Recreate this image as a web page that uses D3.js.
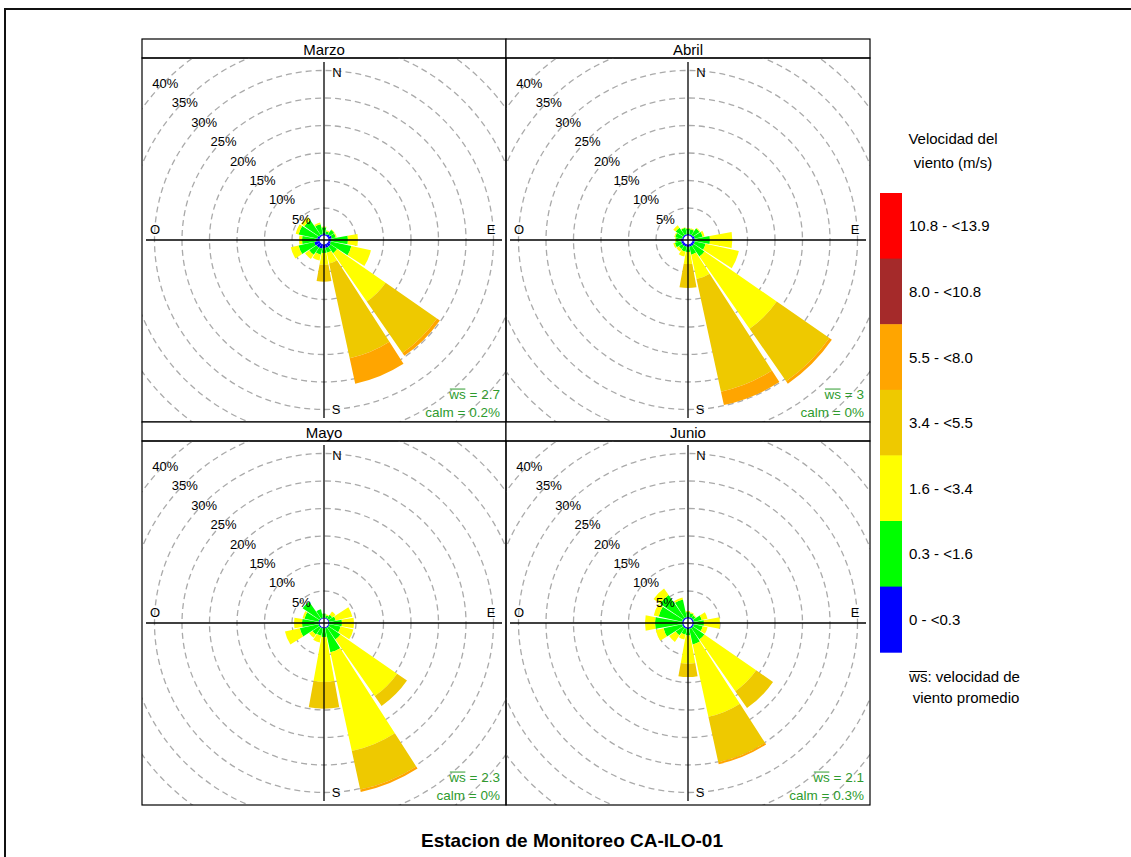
<!DOCTYPE html>
<html>
<head>
<meta charset="utf-8">
<script src="https://cdn.jsdelivr.net/npm/d3@7"></script>
<style>
	body { margin: 0; background: #fff; }
	svg { display: block; }
	text { font-family: "Liberation Sans", Arial, sans-serif; fill: #000; }
</style>
</head>
<body>
<svg></svg>
<script>
'use strict'

// ---- data (percent of hours per direction and speed class)
const months = ['Marzo', 'Abril', 'Mayo', 'Junio']
const directions = ['N', 'NNE', 'NE', 'ENE', 'E', 'ESE', 'SE', 'SSE', 'S', 'SSW', 'SW', 'WSW', 'W', 'WNW', 'NW', 'NNW']
const speedBins = ['0 - <0.3', '0.3 - <1.6', '1.6 - <3.4', '3.4 - <5.5', '5.5 - <8.0', '8.0 - <10.8', '10.8 - <13.9']
const binColors = ['#0000ff', '#00ff00', '#ffff00', '#eec900', '#ffa500', '#a52a2a', '#ff0000']
const ringTicks = [5, 10, 15, 20, 25, 30, 35, 40]

// one row per direction, values per speed class (higher classes are zero)
const marzo = [
	[0.45, 1.04, 0.15],
	[0.27, 0.55, 0.18],
	[0.45, 1.0, 0.09],
	[0.64, 0.73, 0.18],
	[0.45, 3.09, 1.82],
	[0.45, 3.82, 3.64],
	[0.64, 1.45, 10.73, 11.36, 0.64],
	[0.64, 0.91, 2.0, 17.63, 4.73],
	[0.64, 0.91, 2.18, 3.03],
	[0.82, 1.09, 1.09],
	[0.82, 1.64, 0.91],
	[1.0, 2.91, 1.45],
	[0.64, 2.54, 0.55],
	[0.45, 3.45, 0.55],
	[0.27, 3.27, 0.73],
	[0.27, 1.82, 0.36]
]
const abril = [
	[0.27, 0.97, 0.12],
	[0.27, 0.91, 0.18],
	[0.27, 1.46, 0.18],
	[0.45, 1.46, 0.36],
	[0.45, 2.73, 4.06],
	[0.45, 2.0, 6.19],
	[0.45, 2.37, 16.0, 11.65, 0.55],
	[0.45, 1.46, 4.54, 20.95, 2.5],
	[0.45, 0.91, 2.19, 4.35],
	[0.45, 0.91, 0.91],
	[0.45, 0.73, 0.55],
	[0.45, 1.17, 0.29],
	[0.45, 0.91, 0.19],
	[0.27, 1.28, 0.18],
	[0.27, 1.64, 0.54],
	[0.27, 1.18, 0.1]
]
const mayo = [
	[0.18, 0.73],
	[0.18, 0.46, 0.18],
	[0.18, 0.82, 0.73],
	[0.18, 1.18, 3.09],
	[0.18, 2.27, 2.19],
	[0.18, 2.09, 2.37],
	[0.18, 2.64, 12.54, 2.19],
	[0.18, 4.46, 18.36, 7.18, 0.46],
	[0.18, 1.55, 8.17, 4.86],
	[0.18, 1.37, 1.27],
	[0.18, 1.55, 0.73],
	[0.18, 3.51, 2.76],
	[0.18, 3.0, 1.46],
	[0.18, 2.64, 0.36],
	[0.18, 3.73],
	[0.18, 1.55]
]
const junio = [
	[0.27, 0.91, 0.18],
	[0.27, 0.73, 0.18],
	[0.27, 0.55, 0.18],
	[0.27, 1.46, 1.09],
	[0.27, 1.82, 2.91],
	[0.27, 1.64, 0.91],
	[0.27, 2.55, 11.45, 3.73],
	[0.27, 2.91, 13.46, 8.45, 0.36],
	[0.27, 1.18, 5.13, 2.42],
	[0.27, 1.09, 0.91],
	[0.27, 1.64, 1.45],
	[0.27, 3.46, 1.45],
	[0.27, 4.91, 1.82],
	[0.27, 4.37, 0.91],
	[0.27, 5.09, 1.46],
	[0.27, 3.28, 0.36]
]
const meanWs = ['2.7', '3', '2.3', '2.1']
const calmPct = ['0.2%', '0%', '0%', '0.3%']

const roses = [marzo, abril, mayo, junio]

// ---- layout
const width = 1131,
	height = 857

const panelLeft = 142,
	panelTop = 39,
	panelSize = 364,
	stripH = 19,
	axisLen = 178

const svg = d3.select('svg')
	.attr('width', width)
	.attr('height', height)

// outer frame (right and bottom edges fall outside the picture)
svg.append('rect')
	.attr('x', 5).attr('y', 9)
	.attr('width', 1140).attr('height', 860)
	.attr('fill', 'none')
	.attr('stroke', '#111')
	.attr('stroke-width', 2)

const r = d3.scaleLinear()
	.domain([0, 40])
	.range([4.5, 224.5])

const angle = d3.scaleBand()
	.domain(directions)
	.range([-Math.PI / 16, 2 * Math.PI - Math.PI / 16])
	.paddingInner(0.09)
	.paddingOuter(0.045)

const arc = d3.arc()
	.innerRadius(function(d) { return r(d.y0) })
	.outerRadius(function(d) { return r(d.y1) })
	.startAngle(function(d) { return angle(d.dir) })
	.endAngle(function(d) { return angle(d.dir) + angle.bandwidth() })

const green = '#2e9b2e'

function overline(textSel, nChars, fs) {
	// draws the bar over "ws"
	let node = textSel.node()
	let a = node.getExtentOfChar(0)
	let b = node.getExtentOfChar(nChars - 1)
	let y = +textSel.attr('y') - fs * 0.7
	textSel.select(function() { return this.parentNode }).append('line')
		.attr('x1', a.x + 0.5).attr('x2', b.x + b.width - 0.5)
		.attr('y1', y).attr('y2', y)
		.attr('stroke', textSel.style('fill'))
		.attr('stroke-width', 1)
}

months.forEach(function(month, i) {
	let col = i % 2,
		row = Math.floor(i / 2)
	let x0 = panelLeft + col * panelSize
	let stripY = panelTop + row * (panelSize + stripH)
	let bodyY = stripY + stripH
	let cx = x0 + panelSize / 2,
		cy = bodyY + panelSize / 2

	let g = svg.append('g')

	// strip
	g.append('rect')
		.attr('x', x0).attr('y', stripY)
		.attr('width', panelSize).attr('height', stripH)
		.attr('fill', '#fff')
		.attr('stroke', '#000')
		.attr('stroke-width', 1.2)
	g.append('text')
		.attr('x', cx).attr('y', stripY + stripH / 2 + 0.5)
		.attr('text-anchor', 'middle')
		.attr('dominant-baseline', 'central')
		.style('font-size', '15px')
		.text(month)

	g.append('clipPath')
		.attr('id', 'clip' + i)
		.append('rect')
		.attr('x', x0).attr('y', bodyY)
		.attr('width', panelSize).attr('height', panelSize)

	let body = g.append('g').attr('clip-path', 'url(#clip' + i + ')')
	let plot = body.append('g').attr('transform', 'translate(' + cx + ',' + cy + ')')

	// dashed rings
	plot.selectAll('circle.ring')
		.data(ringTicks)
		.enter().append('circle')
		.attr('class', 'ring')
		.attr('r', function(d) { return r(d) })
		.attr('fill', 'none')
		.attr('stroke', '#aaaaaa')
		.attr('stroke-width', 1.3)
		.attr('stroke-dasharray', '6,4')

	// petals: stack the speed classes of every direction
	let segs = []
	roses[i].forEach(function(vals, k) {
		let cum = 0
		vals.forEach(function(v, b) {
			if (v > 0) segs.push({ dir: directions[k], bin: b, y0: cum, y1: cum + v })
			cum += v
		})
	})

	plot.append('g')
		.selectAll('path')
		.data(segs)
		.enter().append('path')
		.attr('d', arc)
		.attr('fill', function(d) { return binColors[d.bin] })

	// axes
	plot.append('line')
		.attr('x1', 0).attr('x2', 0)
		.attr('y1', -axisLen).attr('y2', axisLen)
		.attr('stroke', '#000').attr('stroke-width', 1.3)
	plot.append('line')
		.attr('x1', -axisLen).attr('x2', axisLen)
		.attr('y1', 0).attr('y2', 0)
		.attr('stroke', '#000').attr('stroke-width', 1.3)

	let compass = [
		{ t: 'N', x: 13, y: -168 },
		{ t: 'E', x: 167, y: -11 },
		{ t: 'S', x: 12, y: 169 },
		{ t: 'O', x: -169, y: -11 }
	]
	plot.selectAll('text.compass')
		.data(compass)
		.enter().append('text')
		.attr('class', 'compass')
		.attr('x', function(d) { return d.x })
		.attr('y', function(d) { return d.y })
		.attr('text-anchor', 'middle')
		.attr('dominant-baseline', 'central')
		.style('font-size', '13px')
		.text(function(d) { return d.t })

	// ring labels along the NW diagonal
	plot.selectAll('text.tick')
		.data(ringTicks)
		.enter().append('text')
		.attr('class', 'tick')
		.attr('x', function(d) { return -r(d) * Math.SQRT1_2 })
		.attr('y', function(d) { return -r(d) * Math.SQRT1_2 + 2 })
		.attr('text-anchor', 'middle')
		.attr('dominant-baseline', 'central')
		.style('font-size', '13px')
		.text(function(d) { return d + '%' })

	// body frame
	g.append('rect')
		.attr('x', x0).attr('y', bodyY)
		.attr('width', panelSize).attr('height', panelSize)
		.attr('fill', 'none')
		.attr('stroke', '#000')
		.attr('stroke-width', 1.2)

	let wsText = g.append('text')
		.attr('x', x0 + panelSize - 6).attr('y', bodyY + 340.5)
		.attr('text-anchor', 'end')
		.style('font-size', '13.5px')
		.style('fill', green)
		.text('ws = ' + meanWs[i])
	overline(wsText, 2, 13.5)

	g.append('text')
		.attr('x', x0 + panelSize - 6).attr('y', bodyY + 359)
		.attr('text-anchor', 'end')
		.style('font-size', '13.5px')
		.style('fill', green)
		.text('calm = ' + calmPct[i])
})

// ---- legend
const legend = svg.append('g')
const boxTop = 193,
	boxH = 65.6

legend.selectAll('text.title')
	.data(['Velocidad del', 'viento (m/s)'])
	.enter().append('text')
	.attr('class', 'title')
	.attr('x', 953)
	.attr('y', function(d, k) { return 138 + k * 24 })
	.attr('text-anchor', 'middle')
	.attr('dominant-baseline', 'central')
	.style('font-size', '15px')
	.text(function(d) { return d })

const legendOrder = speedBins.map(function(d, k) { return k }).reverse()

legend.selectAll('rect')
	.data(legendOrder)
	.enter().append('rect')
	.attr('x', 880)
	.attr('y', function(d, k) { return boxTop + k * boxH })
	.attr('width', 22)
	.attr('height', boxH + 0.5)
	.attr('fill', function(d) { return binColors[d] })

legend.selectAll('text.bin')
	.data(legendOrder)
	.enter().append('text')
	.attr('class', 'bin')
	.attr('x', 909)
	.attr('y', function(d, k) { return boxTop + k * boxH + boxH / 2 })
	.attr('dominant-baseline', 'central')
	.style('font-size', '15px')
	.text(function(d) { return speedBins[d] })

const wsNote = legend.append('text')
	.attr('x', 964.5).attr('y', 682)
	.attr('text-anchor', 'middle')
	.style('font-size', '15px')
	.text('ws: velocidad de')
overline(wsNote, 2, 15)

legend.append('text')
	.attr('x', 966).attr('y', 703)
	.attr('text-anchor', 'middle')
	.style('font-size', '15px')
	.text('viento promedio')

// ---- title
svg.append('text')
	.attr('x', 572).attr('y', 847)
	.attr('text-anchor', 'middle')
	.style('font-size', '19px')
	.style('font-weight', 'bold')
	.text('Estacion de Monitoreo CA-ILO-01')
</script>
</body>
</html>
